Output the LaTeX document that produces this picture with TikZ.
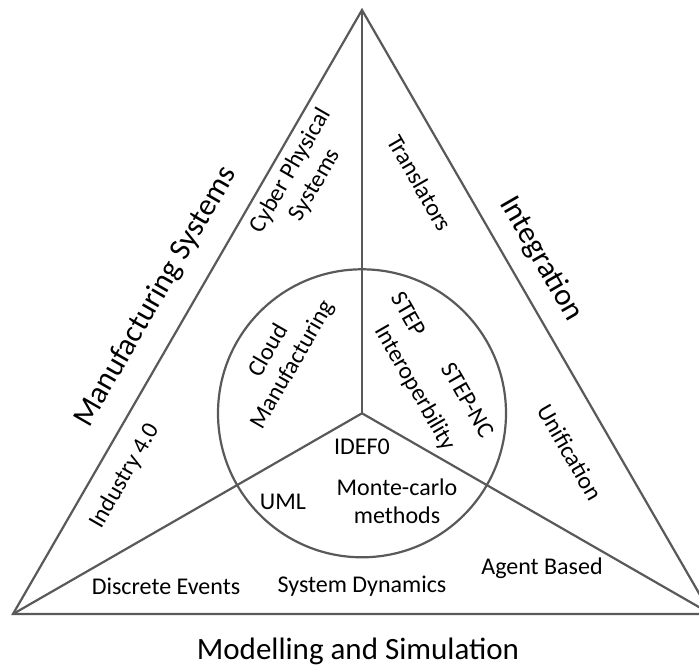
\documentclass[tikz,border=0pt]{standalone}
\usepackage{fontspec}
\setmainfont{Carlito}
\definecolor{linegray}{RGB}{89,89,89}
\begin{document}
\begin{tikzpicture}[x=1pt,y=-1pt,
  edge/.style={draw=linegray, line width=2.2pt},
  lbl/.style={font=\fontsize{24}{28}\selectfont, align=center, inner sep=0pt},
  big/.style={font=\fontsize{31}{36}\selectfont, inner sep=0pt},
]
\useasboundingbox (0,0) rectangle (699,668);
\clip (0,0) rectangle (699,668);

% triangle corners and centre
\coordinate (apex) at (362,10);
\coordinate (left) at (13,614);
\coordinate (right) at (711,614);
\coordinate (hub) at (362,413.3);

% outer triangle, spokes and inner circle
\draw[edge, line join=miter] (apex) -- (left) -- (right) -- cycle;
\draw[edge] (hub) -- (apex);
\draw[edge] (hub) -- (left);
\draw[edge] (hub) -- (right);
\draw[edge] (hub) circle[radius=144];

% side titles
\node[big, rotate=60] (manu) at (156,297) {Manufacturing Systems};
\node[big, rotate=-60] (integ) at (541,259) {Integration};
\node[big] (modsim) at (358,651) {Modelling and Simulation};

% manufacturing systems sector
\node[lbl, rotate=60] (cps) at (303,178) {Cyber Physical\\Systems};
\node[lbl, rotate=60] (ind) at (125,476) {Industry 4.0};
\node[lbl, rotate=60] (cloud) at (281,358) {Cloud\\Manufacturing};

% integration sector
\node[lbl, rotate=-60] (trans) at (420,183) {Translators};
\node[lbl, rotate=-60] (unif) at (570,452) {Unification};
\node[lbl, rotate=-60] (step) at (409,314) {STEP};
\node[lbl, rotate=-60] (interop) at (415,388) {Interoperbility};
\node[lbl, rotate=-60] (stepnc) at (468,400) {STEP-NC};

% modelling and simulation sector
\node[lbl] (idef) at (362,447) {IDEF0};
\node[lbl] (uml) at (283,502) {UML};
\node[lbl] (monte) at (397,501) {Monte-carlo\\methods};
\node[lbl] (discrete) at (166,586) {Discrete Events};
\node[lbl] (sysdyn) at (362,586) {System Dynamics};
\node[lbl] (agent) at (542,568) {Agent Based};
\end{tikzpicture}
\end{document}
